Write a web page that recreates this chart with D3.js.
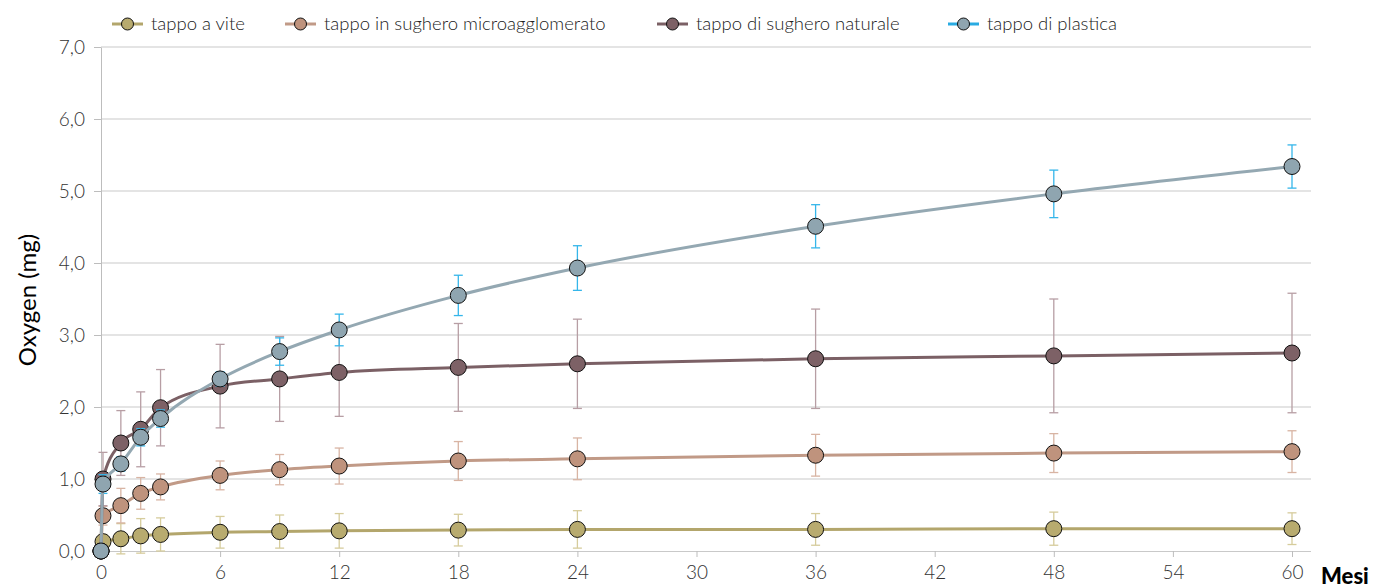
<!DOCTYPE html>
<html lang="it">
<head>
<meta charset="utf-8"/>
<title>Oxygen</title>
<script src="https://cdnjs.cloudflare.com/ajax/libs/d3/7.8.5/d3.min.js"></script>
<style>
  body { margin: 0; background: #fff; }
  svg text { font-family: Lato, "Open Sans", sans-serif; }
</style>
</head>
<body>
<svg id="chart" width="1374" height="588"></svg>
<script>
// months (0.1 = first reading just after bottling)
var months = [0, 0.1, 1, 2, 3, 6, 9, 12, 18, 24, 36, 48, 60];
var xTicks = [0, 6, 12, 18, 24, 30, 36, 42, 48, 54, 60];
var yTicks = [0, 1, 2, 3, 4, 5, 6, 7];

var seriesNames = ["tappo a vite", "tappo in sughero microagglomerato", "tappo di sughero naturale", "tappo di plastica"];

var vite      = [0, 0.13, 0.17, 0.21, 0.23, 0.26, 0.27, 0.28, 0.29, 0.30, 0.30, 0.31, 0.31];
var viteErr   = [0, 0.10, 0.21, 0.24, 0.23, 0.22, 0.23, 0.24, 0.22, 0.26, 0.22, 0.23, 0.22];
var micro     = [0, 0.49, 0.63, 0.80, 0.89, 1.05, 1.13, 1.18, 1.25, 1.28, 1.33, 1.36, 1.38];
var microErr  = [0, 0.13, 0.24, 0.22, 0.18, 0.20, 0.21, 0.25, 0.27, 0.29, 0.29, 0.27, 0.29];
var naturale  = [0, 1.00, 1.50, 1.69, 1.99, 2.29, 2.39, 2.48, 2.55, 2.60, 2.67, 2.71, 2.75];
var natErr    = [0, 0.37, 0.45, 0.52, 0.53, 0.58, 0.59, 0.61, 0.61, 0.62, 0.69, 0.79, 0.83];
var plastica  = [0, 0.93, 1.21, 1.58, 1.84, 2.39, 2.77, 3.07, 3.55, 3.93, 4.51, 4.96, 5.34];
var plastErr  = [0, 0.13, 0.10, 0.12, 0.12, 0.10, 0.19, 0.22, 0.28, 0.31, 0.30, 0.33, 0.30];

var lineColors = ["#b3a66c", "#c19a87", "#7b6065", "#94a8b2"];
var fillColors = ["#b8ab6f", "#bf937d", "#7d6166", "#8fa5b0"];
var errColors  = ["#d6cc9c", "#d8b4a3", "#b79ea4", "#35b6ea"];
var legendLineColors = ["#b3a66c", "#c19a87", "#7b6065", "#29abe2"];

var values = [vite, micro, naturale, plastica];
var errors = [viteErr, microErr, natErr, plastErr];

var svg = d3.select("#chart");
var x = d3.scaleLinear().domain([0, 60]).range([101, 1292]);
var y = d3.scaleLinear().domain([0, 7]).range([551, 47]);

// grid
svg.append("g").selectAll("line").data(yTicks.slice(1)).enter().append("line")
  .attr("x1", 101).attr("x2", 1311)
  .attr("y1", d => y(d)).attr("y2", d => y(d))
  .attr("stroke", "#c9c9c9").attr("stroke-width", 1);

// y axis
var yAxis = d3.axisLeft(y).tickValues(yTicks).tickSize(7).tickSizeOuter(0)
  .tickFormat(d => d3.format(".1f")(d).replace(".", ","));
var gy = svg.append("g").attr("transform", "translate(101,0)").call(yAxis);
gy.select(".domain").attr("stroke", "#bdbdbd");
gy.selectAll(".tick line").attr("stroke", "#bdbdbd");
gy.selectAll("text").attr("font-size", 19).attr("font-weight", 300).attr("fill", "#333").attr("x", -16);

// x axis
var xAxis = d3.axisBottom(x).tickValues(xTicks).tickSize(6).tickSizeOuter(0);
var gx = svg.append("g").attr("transform", "translate(0,551)").call(xAxis);
gx.select(".domain").attr("d", "M101,0.5H1311").attr("stroke", "#c9c9c9");
gx.selectAll(".tick line").attr("stroke", "#bdbdbd");
gx.selectAll("text").attr("font-size", 19).attr("font-weight", 300).attr("fill", "#333").attr("y", 15);

svg.append("text").attr("x", 1321).attr("y", 584)
  .attr("font-size", 22).attr("font-weight", 900).attr("fill", "#000").text("Mesi");

svg.append("text").attr("transform", "translate(36,300) rotate(-90)")
  .attr("text-anchor", "middle").attr("font-size", 24).attr("fill", "#000")
  .text("Oxygen (mg)");

var line = d3.line().x(d => x(d[0])).y(d => y(d[1])).curve(d3.curveMonotoneX);

values.forEach(function(vals, s) {
  var g = svg.append("g");
  var pts = months.map((m, i) => [m, vals[i], errors[s][i]]);
  // error bars
  var eb = g.selectAll(".eb").data(pts.filter(p => p[2] > 0)).enter().append("g")
    .attr("stroke", errColors[s]).attr("stroke-width", 1.3);
  eb.append("line").attr("x1", p => x(p[0])).attr("x2", p => x(p[0]))
    .attr("y1", p => y(p[1] + p[2])).attr("y2", p => y(p[1] - p[2]));
  eb.append("line").attr("x1", p => x(p[0]) - 4.5).attr("x2", p => x(p[0]) + 4.5)
    .attr("y1", p => y(p[1] + p[2])).attr("y2", p => y(p[1] + p[2]));
  eb.append("line").attr("x1", p => x(p[0]) - 4.5).attr("x2", p => x(p[0]) + 4.5)
    .attr("y1", p => y(p[1] - p[2])).attr("y2", p => y(p[1] - p[2]));
  g.append("path").datum(pts).attr("d", line).attr("fill", "none")
    .attr("stroke", lineColors[s]).attr("stroke-width", 3);
  g.selectAll("circle").data(pts).enter().append("circle")
    .attr("cx", p => x(p[0])).attr("cy", p => y(p[1])).attr("r", 8)
    .attr("fill", fillColors[s]).attr("stroke", "#111").attr("stroke-width", 1);
});

// legend
var legendX = [112, 285, 657, 948];
var lg = svg.append("g").selectAll("g").data(seriesNames).enter().append("g")
  .attr("transform", (d, i) => "translate(" + legendX[i] + ",24)");
lg.append("line").attr("x1", 0).attr("x2", 31).attr("y1", 0).attr("y2", 0)
  .attr("stroke", (d, i) => legendLineColors[i]).attr("stroke-width", 3);
lg.append("circle").attr("cx", 15.5).attr("cy", 0).attr("r", 6)
  .attr("fill", (d, i) => fillColors[i]).attr("stroke", "#111").attr("stroke-width", 1);
lg.append("text").attr("x", 39).attr("y", 6).attr("font-size", 18.5).attr("font-weight", 300).attr("fill", "#222")
  .text(d => d);
</script>
</body>
</html>
